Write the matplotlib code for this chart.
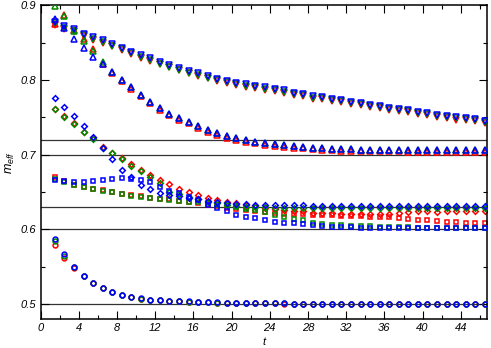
import numpy as np
import matplotlib
matplotlib.use("Agg")
import matplotlib.pyplot as plt
from matplotlib.ticker import MultipleLocator, FormatStrFormatter

t = np.arange(1.5, 47.0, 1.0)  # 46 time slices

# down triangles
v_red = [0.874, 0.868, 0.865, 0.859, 0.854, 0.850, 0.845, 0.840, 0.835, 0.830, 0.826, 0.821, 0.817, 0.813, 0.809, 0.806,
         0.802, 0.798, 0.796, 0.793, 0.791, 0.789, 0.787, 0.785, 0.783, 0.780, 0.778, 0.775, 0.774, 0.772, 0.770, 0.768,
         0.766, 0.764, 0.762, 0.760, 0.758, 0.7565, 0.7545, 0.7525, 0.7505, 0.749, 0.747, 0.746, 0.7445, 0.7425]
v_green = [0.876, 0.870, 0.866, 0.860, 0.855, 0.851, 0.846, 0.841, 0.836, 0.831, 0.827, 0.822, 0.818, 0.814, 0.810, 0.807,
           0.803, 0.7995, 0.797, 0.7945, 0.7925, 0.7905, 0.7885, 0.7865, 0.7845, 0.7815, 0.7795, 0.7765, 0.7755, 0.7735,
           0.7715, 0.7695, 0.7675, 0.7655, 0.7635, 0.7615, 0.7595, 0.758, 0.756, 0.754, 0.752, 0.7505, 0.7485, 0.7475,
           0.746, 0.744]
v_blue = [0.878, 0.872, 0.868, 0.862, 0.857, 0.853, 0.848, 0.843, 0.838, 0.833, 0.829, 0.824, 0.820, 0.816, 0.812, 0.809,
          0.805, 0.801, 0.799, 0.796, 0.794, 0.792, 0.790, 0.788, 0.786, 0.783, 0.781, 0.778, 0.777, 0.775, 0.773, 0.771,
          0.769, 0.767, 0.765, 0.763, 0.761, 0.7595, 0.7575, 0.7555, 0.7535, 0.752, 0.750, 0.749, 0.7475, 0.7455]

# up triangles
u_red = [0.875, 0.887, 0.867, 0.855, 0.842, 0.822, 0.809, 0.798, 0.788, 0.778, 0.769, 0.760, 0.753, 0.747, 0.742, 0.736,
         0.731, 0.727, 0.723, 0.720, 0.7175, 0.7155, 0.7135, 0.712, 0.7107, 0.7095, 0.7085, 0.7075, 0.7068, 0.706, 0.7055,
         0.705, 0.7048, 0.7046, 0.7045, 0.7044, 0.7043, 0.7042, 0.7042, 0.7041, 0.7041, 0.704, 0.704, 0.704, 0.704, 0.704]
u_green = [0.899, 0.886, 0.866, 0.852, 0.839, 0.824, 0.811, 0.800, 0.790, 0.780, 0.771, 0.762, 0.755, 0.749, 0.744, 0.738,
           0.733, 0.729, 0.725, 0.722, 0.7195, 0.7175, 0.7155, 0.714, 0.7127, 0.7115, 0.7105, 0.7095, 0.7088, 0.708,
           0.7075, 0.707, 0.7068, 0.7066, 0.7065, 0.7064, 0.7063, 0.7062, 0.7062, 0.7061, 0.7061, 0.706, 0.706, 0.706,
           0.706, 0.706]
u_blue = [0.881, 0.869, 0.855, 0.843, 0.831, 0.822, 0.811, 0.800, 0.790, 0.780, 0.771, 0.762, 0.755, 0.749, 0.744, 0.738,
          0.733, 0.729, 0.725, 0.722, 0.7195, 0.7175, 0.7155, 0.714, 0.7127, 0.7115, 0.7105, 0.7095, 0.7088, 0.708, 0.7075,
          0.707, 0.7068, 0.7066, 0.7065, 0.7064, 0.7063, 0.7062, 0.7062, 0.7061, 0.7061, 0.706, 0.706, 0.706, 0.706, 0.706]

# diamonds
d_red = [0.761, 0.7515, 0.742, 0.731, 0.722, 0.710, 0.7025, 0.695, 0.687, 0.680, 0.673, 0.6663, 0.6605, 0.6545, 0.650,
         0.646, 0.642, 0.6395, 0.637, 0.635, 0.633, 0.631, 0.629, 0.627, 0.626, 0.625, 0.624, 0.6225, 0.622, 0.6215,
         0.621, 0.6205, 0.620, 0.620, 0.6205, 0.621, 0.622, 0.6235, 0.624, 0.624, 0.6235, 0.624, 0.6245, 0.624, 0.6245,
         0.6245]
d_green = [0.7615, 0.751, 0.741, 0.730, 0.721, 0.7095, 0.702, 0.694, 0.6855, 0.6787, 0.670, 0.662, 0.6507, 0.647, 0.643,
           0.640, 0.637, 0.635, 0.633, 0.631, 0.630, 0.6295, 0.6295, 0.629, 0.629, 0.629, 0.629, 0.629, 0.629, 0.629,
           0.629, 0.629, 0.629, 0.629, 0.629, 0.629, 0.629, 0.629, 0.629, 0.629, 0.629, 0.629, 0.629, 0.629, 0.629, 0.629]
d_blue = [0.776, 0.764, 0.752, 0.7385, 0.724, 0.7095, 0.694, 0.680, 0.670, 0.6596, 0.6538, 0.6485, 0.6462, 0.645, 0.6425,
          0.640, 0.638, 0.636, 0.635, 0.634, 0.6335, 0.633, 0.6328, 0.6325, 0.6323, 0.632, 0.632, 0.6318, 0.6318, 0.6317,
          0.6317, 0.6316, 0.6316, 0.6315, 0.6315, 0.6315, 0.6315, 0.6315, 0.6315, 0.6315, 0.6315, 0.6315, 0.6315, 0.6315,
          0.6315, 0.6315]

# squares
s_red = [0.670, 0.665, 0.660, 0.657, 0.6545, 0.6525, 0.650, 0.648, 0.6455, 0.6445, 0.6425, 0.641, 0.640, 0.6385, 0.637,
         0.635, 0.633, 0.631, 0.629, 0.627, 0.6255, 0.624, 0.623, 0.622, 0.621, 0.6205, 0.620, 0.6195, 0.619, 0.619,
         0.6185, 0.618, 0.6175, 0.617, 0.6165, 0.616, 0.615, 0.614, 0.6128, 0.612, 0.611, 0.6105, 0.6095, 0.609, 0.6085,
         0.608]
s_green = [0.6676, 0.664, 0.6596, 0.6565, 0.6542, 0.652, 0.6498, 0.6476, 0.6453, 0.644, 0.6418, 0.641, 0.6395, 0.638,
           0.637, 0.636, 0.635, 0.633, 0.632, 0.6306, 0.6275, 0.626, 0.6226, 0.6195, 0.617, 0.6137, 0.6128, 0.609, 0.6074,
           0.6057, 0.6055, 0.605, 0.6045, 0.604, 0.6035, 0.6032, 0.603, 0.6028, 0.6025, 0.6022, 0.602, 0.6018, 0.6016,
           0.6015, 0.6014, 0.6013]
s_blue = [0.6665, 0.665, 0.6635, 0.6636, 0.665, 0.6663, 0.668, 0.6694, 0.668, 0.6663, 0.663, 0.657, 0.652, 0.6485, 0.644,
          0.6395, 0.633, 0.628, 0.624, 0.6195, 0.617, 0.615, 0.6128, 0.6105, 0.609, 0.6083, 0.607, 0.606, 0.6047, 0.6038,
          0.6032, 0.6028, 0.6025, 0.6022, 0.602, 0.6018, 0.6017, 0.6016, 0.6015, 0.6014, 0.6013, 0.6013, 0.6012, 0.6012,
          0.6012, 0.6012]

# circles
c_red = [0.579, 0.562, 0.548, 0.537, 0.528, 0.521, 0.516, 0.512, 0.5097, 0.5073, 0.5058, 0.505, 0.5043, 0.5038, 0.5033,
         0.5028, 0.5024, 0.502, 0.5018, 0.5015, 0.5012, 0.501, 0.5009, 0.5008, 0.5007, 0.5006, 0.5005, 0.5005, 0.5004,
         0.5004, 0.5004, 0.5003, 0.5003, 0.5003, 0.5003, 0.5003, 0.5002, 0.5002, 0.5002, 0.5002, 0.5002, 0.5002, 0.5002,
         0.5002, 0.5002, 0.5002]
c_green = [0.584, 0.565, 0.549, 0.537, 0.528, 0.5212, 0.5162, 0.5122, 0.5098, 0.5074, 0.5059, 0.5051, 0.5044, 0.5039,
           0.5034, 0.5029, 0.5025, 0.5021, 0.5019, 0.5016, 0.5013, 0.5011, 0.501, 0.5009, 0.5008, 0.5007, 0.5006, 0.5005,
           0.5005, 0.5004, 0.5004, 0.5004, 0.5003, 0.5003, 0.5003, 0.5003, 0.5003, 0.5002, 0.5002, 0.5002, 0.5002, 0.5002,
           0.5002, 0.5002, 0.5002, 0.5002]
c_blue = [0.587, 0.567, 0.550, 0.5375, 0.5285, 0.5215, 0.5165, 0.5125, 0.510, 0.5075, 0.506, 0.5052, 0.5045, 0.504,
          0.5035, 0.503, 0.5026, 0.5022, 0.502, 0.5017, 0.5014, 0.5012, 0.501, 0.5009, 0.5008, 0.5007, 0.5006, 0.5006,
          0.5005, 0.5005, 0.5004, 0.5004, 0.5004, 0.5003, 0.5003, 0.5003, 0.5003, 0.5003, 0.5002, 0.5002, 0.5002, 0.5002,
          0.5002, 0.5002, 0.5002, 0.5002]

hlines = [0.50, 0.60, 0.63, 0.70, 0.72]
xticks = [0, 4, 8, 12, 16, 20, 24, 28, 32, 36, 40, 44]
yticks = [0.5, 0.6, 0.7, 0.8, 0.9]

RED, GREEN, BLUE = "#ff0000", "#008a00", "#0000ff"

plt.rcParams["font.family"] = ["Liberation Sans", "DejaVu Sans"]
plt.rcParams["font.style"] = "italic"
plt.rcParams["mathtext.fontset"] = "custom"
plt.rcParams["mathtext.it"] = "Liberation Sans:italic"
plt.rcParams["mathtext.rm"] = "Liberation Sans:italic"

fig = plt.figure(figsize=(4.91, 3.48), dpi=100)
ax = fig.add_axes([0.0825, 0.0833, 0.9087, 0.9015])

for y in hlines:
    ax.axhline(y, color="#333333", lw=0.9, zorder=1)

groups = [
    ("v", [v_red, v_green, v_blue], 4.0),
    ("^", [u_red, u_green, u_blue], 4.0),
    ("D", [d_red, d_green, d_blue], 2.9),
    ("s", [s_red, s_green, s_blue], 3.3),
    ("o", [c_red, c_green, c_blue], 3.5),
]
for colidx, col in enumerate([RED, GREEN, BLUE]):
    for mk, series, ms in groups:
        ax.plot(t, series[colidx], linestyle="none", marker=mk, ms=ms, mfc="none",
                mec=col, mew=1.1, zorder=2 + colidx, clip_on=True)

ax.set_xlim(0, 46.7)
ax.set_ylim(0.48, 0.9)
ax.set_xticks(xticks)
ax.set_yticks(yticks)
ax.xaxis.set_minor_locator(MultipleLocator(2))
ax.yaxis.set_minor_locator(MultipleLocator(0.05))
ax.yaxis.set_major_formatter(FormatStrFormatter("%.1f"))
ax.tick_params(which="both", direction="in", top=True, right=True, labelsize=8, width=0.8, pad=3)
ax.tick_params(which="major", length=6)
ax.tick_params(which="minor", length=3)
for s in ax.spines.values():
    s.set_linewidth(1.1)

ax.set_xlabel("t", fontsize=8, labelpad=2.5)
ax.set_ylabel(r"$m_{eff}$", fontsize=9, labelpad=3)

fig.savefig("out.png", dpi=100)
